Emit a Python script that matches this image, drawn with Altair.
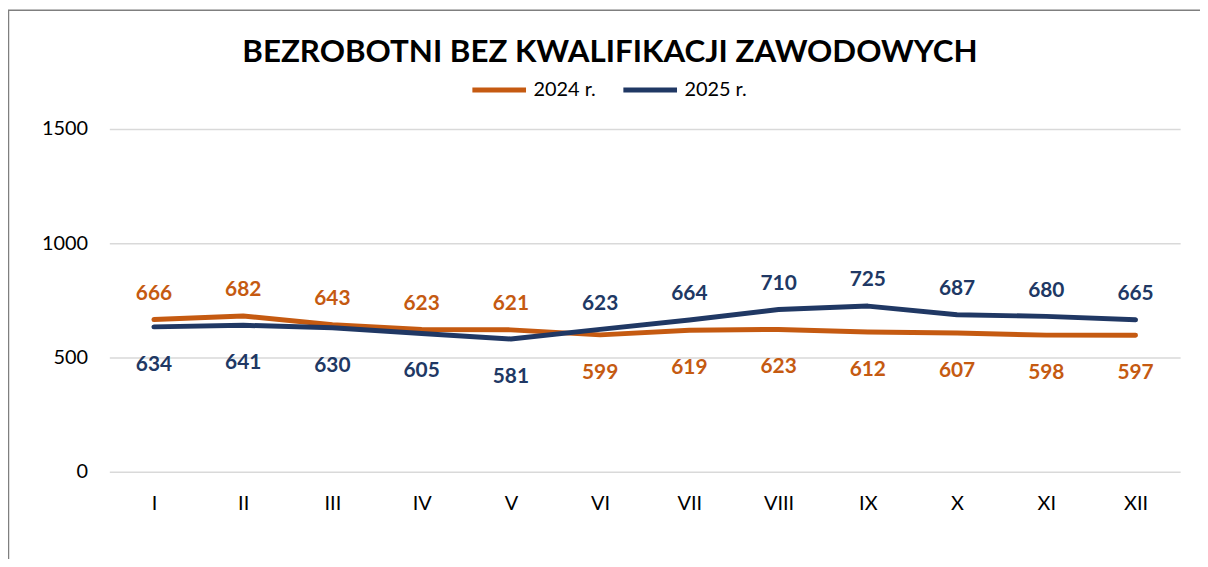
import altair as alt
import pandas as pd

months = ["I", "II", "III", "IV", "V", "VI", "VII", "VIII", "IX", "X", "XI", "XII"]
series_names = ["2024 r.", "2025 r."]
values_2024 = [666, 682, 643, 623, 621, 599, 619, 623, 612, 607, 598, 597]
values_2025 = [634, 641, 630, 605, 581, 623, 664, 710, 725, 687, 680, 665]
colors = ["#C55A11", "#203864"]
title_text = "BEZROBOTNI BEZ KWALIFIKACJI ZAWODOWYCH"

rows = []
for i, m in enumerate(months):
    a, b = values_2024[i], values_2025[i]
    rows.append({"month": m, "series": series_names[0], "value": a, "pos": "above" if a >= b else "below"})
    rows.append({"month": m, "series": series_names[1], "value": b, "pos": "above" if b > a else "below"})
df = pd.DataFrame(rows)

FONT = "Lato"
W, H = 1078, 345

x = alt.X("month:N", sort=months, title=None,
          scale=alt.Scale(paddingInner=0, paddingOuter=0),
          axis=alt.Axis(labelAngle=0, ticks=False, domain=False, grid=False,
                        labelFontSize=20, labelFont=FONT, labelColor="#000000",
                        labelFontWeight="normal", labelPadding=22))
y = alt.Y("value:Q", title=None,
          scale=alt.Scale(domain=[0, 1500], nice=False, zero=True),
          axis=alt.Axis(values=[0, 500, 1000, 1500], format="d", ticks=False, domain=False,
                        labelFontSize=20, labelFont=FONT, labelColor="#000000",
                        labelFontWeight="normal", labelPadding=22,
                        gridColor="#d9d9d9", gridWidth=1.5))
color = alt.Color("series:N", title=None,
                  scale=alt.Scale(domain=series_names, range=colors),
                  legend=alt.Legend(orient="none", legendX=363, legendY=-69,
                                    direction="horizontal", symbolType="stroke",
                                    symbolSize=2916, symbolStrokeWidth=5,
                                    labelFontSize=20, labelFont=FONT, labelColor="#000000",
                                    labelFontWeight="normal",
                                    labelOffset=5, columnPadding=17, symbolOffset=0))

base = alt.Chart(df).encode(x=x, y=y)

lines = base.mark_line(strokeWidth=5, strokeCap="round", strokeJoin="round").encode(color=color)

label_color = alt.Color("series:N", scale=alt.Scale(domain=series_names, range=colors), legend=None)
labels_above = base.transform_filter(alt.datum.pos == "above").mark_text(
    font=FONT, fontSize=21, fontWeight="bold", dy=-26).encode(text="value:Q", color=label_color)
labels_below = base.transform_filter(alt.datum.pos == "below").mark_text(
    font=FONT, fontSize=21, fontWeight="bold", dy=38).encode(text="value:Q", color=label_color)

frame = alt.Chart(pd.DataFrame({"a": [0]})).mark_rect(
    fill=None, stroke="#7f7f7f", strokeWidth=1.5).encode(
    x=alt.value(-101.5), x2=alt.value(W + 200), y=alt.value(-119.5), y2=alt.value(H + 200))

title = alt.Chart(pd.DataFrame({"t": [title_text]})).mark_text(
    font=FONT, fontSize=31.5, fontWeight="bold", color="#000000",
    align="center", baseline="alphabetic").encode(
    text="t:N", x=alt.value(504), y=alt.value(-67))

chart = alt.layer(frame, title, lines, labels_above, labels_below).properties(
    width=W, height=H,
    autosize=alt.AutoSizeParams(type="none"),
    padding={"left": 102, "top": 120, "right": 20, "bottom": 86},
).configure(background="#ffffff", view=alt.ViewConfig(stroke=None))

chart.save("out.html", embed_options={"renderer": "svg", "actions": False})
